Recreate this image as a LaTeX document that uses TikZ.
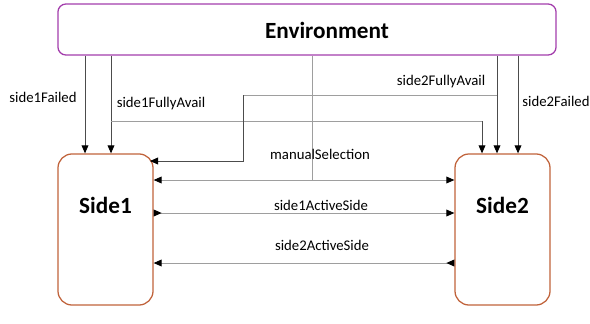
\documentclass[tikz,border=0pt]{standalone}
\usepackage{fontspec}
\setmainfont{Carlito}
\usepackage{xcolor}
\usetikzlibrary{arrows.meta,positioning,calc}

\definecolor{envpurple}{RGB}{163,62,172}
\definecolor{sidebrown}{RGB}{192,98,58}

\begin{document}
\begin{tikzpicture}[
    x=0.025cm, y=-0.025cm,
    envbox/.style={rectangle, draw=envpurple, line width=0.9pt, rounded corners=0.2cm, minimum width=12.45cm, minimum height=1.275cm},
    sidebox/.style={rectangle, draw=sidebrown, line width=0.9pt, rounded corners=0.35cm, minimum width=2.375cm, minimum height=3.775cm},
    title/.style={font=\fontsize{16.5}{19}\selectfont\bfseries},
    sig/.style={font=\fontsize{10.5}{12}\selectfont, inner sep=1pt},
    wire/.style={draw=black!70, line width=0.6pt},
    bus/.style={draw=black!38, line width=0.6pt},
    tipend/.style={-{Triangle[length=0.2cm,width=0.17cm,color=black]}},
    tipboth/.style={{Triangle[length=0.2cm,width=0.17cm,color=black]}-{Triangle[length=0.2cm,width=0.17cm,color=black]}},
    tiptail/.style={{Triangle[reversed,length=0.2cm,width=0.17cm,color=black]}-{Triangle[length=0.2cm,width=0.17cm,color=black]}}
]
    \useasboundingbox (0,0) rectangle (590,323);

    % Environment and the two sides
    \node [envbox] (env) at (307,29.5) {};
    \node [title] (envtxt) at ($(env.center)+(20,1)$) {Environment};
    \node [sidebox] (side1) at (105.5,229.5) {};
    \node [sidebox] (side2) at (502.5,229.5) {};
    \node [title] (side1txt) at ($(side1.north)+(0,52)$) {Side1};
    \node [title] (side2txt) at ($(side2.north)+(0,52)$) {Side2};

    % Failure signals
    \draw [wire, tipend] (env.south -| 85,0) -- (side1.north -| 85,0);
    \node [sig] (s1fail) at (43,97) {side1Failed};
    \draw [wire, tipend] (env.south -| 518,0) -- (side2.north -| 518,0);
    \node [sig] (s2fail) at (556,101) {side2Failed};

    % side1FullyAvail goes to both sides
    \coordinate (s1a) at (111,121);
    \coordinate (s1b) at (482,121);
    \draw [wire, tipend] (env.south -| s1a) -- (side1.north -| s1a);
    \draw [bus] (s1a) -- (s1b);
    \draw [wire, tipend] (s1b) -- (side2.north -| s1b);
    \node [sig] (s1avail) at (161,104) {side1FullyAvail};

    % side2FullyAvail goes to both sides
    \coordinate (s2a) at (497,95);
    \coordinate (s2b) at (243,95);
    \coordinate (s2c) at (243,161);
    \draw [wire, tipend] (env.south -| s2a) -- (side2.north -| s2a);
    \draw [bus] (s2a) -- (s2b);
    \draw [wire, tipend] (s2b) -- (s2c) -- (150,161);
    \node [sig] (s2avail) at (441,82) {side2FullyAvail};

    % manualSelection
    \coordinate (ms) at (312,180);
    \draw [bus] (env.south -| ms) -- (ms);
    \draw [bus, tipboth] (side1.east |- ms) -- (side2.west |- ms);
    \node [sig] (manual) at (320,154) {manualSelection};

    % Active side
    \draw [bus, tiptail] (side1.east |- 0,213) -- (side2.west |- 0,213);
    \node [sig] (s1active) at (321,205) {side1ActiveSide};
    \draw [bus, tiptail] (side2.west |- 0,263) -- (side1.east |- 0,263);
    \node [sig] (s2active) at (322,245) {side2ActiveSide};

\end{tikzpicture}
\end{document}
